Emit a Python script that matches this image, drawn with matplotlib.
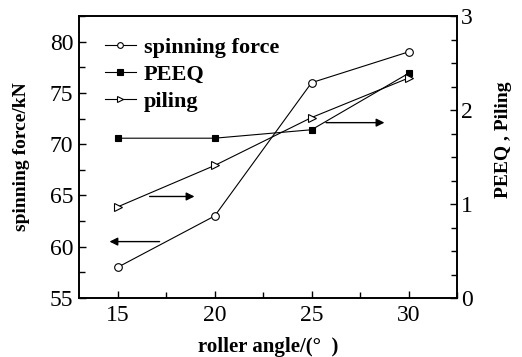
import matplotlib.pyplot as plt
from matplotlib.ticker import MultipleLocator

plt.rcParams['font.family'] = ['Liberation Serif', 'DejaVu Serif']

angle = [15, 20, 25, 30]
force = [58, 63, 76, 79]
peeq = [1.70, 1.70, 1.79, 2.39]
piling = [0.97, 1.41, 1.92, 2.34]

fig = plt.figure(figsize=(5.22, 3.57), dpi=100)
ax = fig.add_axes([79/522, 1 - 298/357, (457 - 79)/522, (298 - 16)/357])
ax2 = ax.twinx()

lw = 0.8
l1, = ax.plot(angle, force, '-o', color='black', lw=lw, mfc='white',
              ms=5.5, mew=0.8, label='spinning force')
l2, = ax2.plot(angle, peeq, '-s', color='black', lw=lw, mfc='black',
               ms=5, mew=0.8, label='PEEQ')
l3, = ax2.plot(angle, piling, '->', color='black', lw=lw, mfc='white',
               ms=6, mew=0.8, label='piling')

ax.set_xlim(13, 32.5)
ax.set_ylim(55, 82.5)
ax2.set_ylim(0, 3)
ax.xaxis.set_major_locator(MultipleLocator(5))
ax.xaxis.set_minor_locator(MultipleLocator(2.5))
ax.yaxis.set_major_locator(MultipleLocator(5))
ax.yaxis.set_minor_locator(MultipleLocator(2.5))
ax2.yaxis.set_major_locator(MultipleLocator(1))
ax2.yaxis.set_minor_locator(MultipleLocator(0.25))

for a in (ax, ax2):
    a.tick_params(which='both', direction='in', labelsize=17, width=1)
    a.tick_params(which='major', length=5)
    a.tick_params(which='minor', length=4)
    for s in a.spines.values():
        s.set_linewidth(1.2)
ax.tick_params(axis='x', pad=5)
ax.tick_params(axis='y', pad=4)
ax2.tick_params(axis='y', pad=3)

ax.set_xlabel('roller angle/(°  )', fontsize=15, fontweight='bold', labelpad=8)
ax.set_ylabel('spinning force/kN', fontsize=14, fontweight='bold', labelpad=14)
ax2.set_ylabel('PEEQ , Piling', fontsize=14, fontweight='bold')
ax2.yaxis.set_label_coords(1.10, 0.56)

arrow = dict(arrowstyle='-|>', color='black', lw=1, mutation_scale=12)
ax.annotate('', xy=(14.43, 60.5), xytext=(17.3, 60.5), arrowprops=arrow)
ax.annotate('', xy=(19.1, 64.9), xytext=(16.5, 64.9), arrowprops=arrow)
ax.annotate('', xy=(28.9, 72.1), xytext=(25.6, 72.1), arrowprops=arrow)

ax.legend(handles=[l1, l2, l3], loc='upper left', frameon=False,
          prop={'size': 16, 'weight': 'bold'}, handlelength=1.4,
          handletextpad=0.35, labelspacing=0.28, markerscale=0.75,
          borderaxespad=0.0, bbox_to_anchor=(0.045, 0.955))

fig.savefig('out.png', dpi=100)
